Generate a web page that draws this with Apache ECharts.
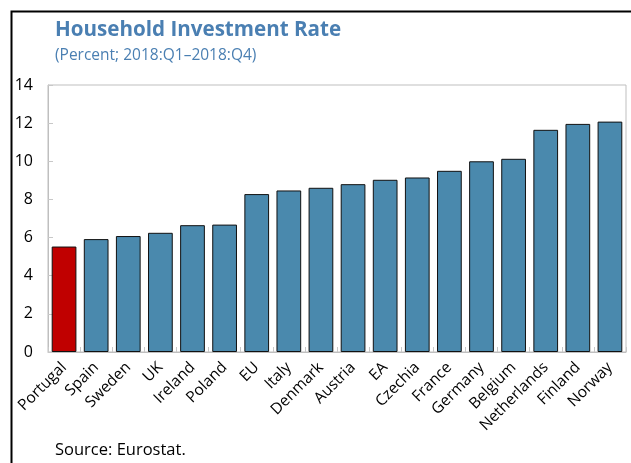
<!DOCTYPE html>
<html>
<head>
<meta charset="utf-8">
<script src="https://cdn.jsdelivr.net/npm/echarts@6/dist/echarts.min.js"></script>
<style>
  html, body { margin: 0; padding: 0; background: #fff; }
  #chart { width: 631px; height: 463px; }
</style>
</head>
<body>
<div id="chart"></div>
<script>
// Household investment rate by country, 2018 average
const countries = ['Portugal', 'Spain', 'Sweden', 'UK', 'Ireland', 'Poland', 'EU', 'Italy', 'Denmark',
  'Austria', 'EA', 'Czechia', 'France', 'Germany', 'Belgium', 'Netherlands', 'Finland', 'Norway'];
const rates = [5.53, 5.92, 6.08, 6.25, 6.65, 6.68, 8.28, 8.47, 8.61,
  8.80, 9.03, 9.15, 9.50, 10.00, 10.13, 11.65, 11.96, 12.08];
const highlighted = 'Portugal';
const yTicks = [0, 2, 4, 6, 8, 10, 12, 14];

const FONT = '"Open Sans", "Noto Sans", sans-serif';
const BLUE = '#4a89ad';
const RED = '#c00000';
const TITLE_BLUE = '#4a7fb2';

const chart = echarts.init(document.getElementById('chart'), null, { renderer: 'canvas' });

chart.setOption({
  backgroundColor: '#ffffff',
  animation: false,
  textStyle: { fontFamily: FONT },
  graphic: [
    {
      type: 'rect',
      shape: { x: 11.5, y: 11.5, width: 800, height: 600 },
      style: { fill: 'none', stroke: '#000', lineWidth: 2 },
      silent: true
    },
    {
      type: 'text', left: 55, top: 20,
      style: { text: 'Household Investment Rate', font: 'bold 20.6px ' + FONT, fill: TITLE_BLUE }
    },
    {
      type: 'text', left: 55, top: 48,
      style: { text: '(Percent; 2018:Q1\u20132018:Q4)', font: '15.5px ' + FONT, fill: TITLE_BLUE }
    },
    {
      type: 'text', left: 55, top: 442,
      style: { text: 'Source: Eurostat.', font: '16.5px ' + FONT, fill: '#000' }
    }
  ],
  grid: {
    left: 48, right: 5, top: 85, bottom: 111,
    show: true, borderColor: '#bfbfbf', borderWidth: 1, backgroundColor: 'transparent'
  },
  xAxis: {
    type: 'category',
    data: countries,
    axisLine: { show: true, lineStyle: { color: '#bfbfbf', width: 1 } },
    axisTick: { show: true, inside: true, length: 5, lineStyle: { color: '#c8c8c8' } },
    axisLabel: {
      interval: 0, rotate: 45, fontSize: 15.5, color: '#000', fontFamily: FONT, margin: 13
    },
    splitLine: { show: false }
  },
  yAxis: {
    type: 'value',
    min: yTicks[0], max: yTicks[yTicks.length - 1], interval: 2,
    axisLine: { show: true, lineStyle: { color: '#bfbfbf', width: 1 } },
    axisTick: { show: true, inside: true, length: 5, lineStyle: { color: '#c8c8c8' } },
    axisLabel: { fontSize: 16, color: '#000', fontFamily: FONT, margin: 15, align: 'right' },
    splitLine: { show: false }
  },
  series: [{
    type: 'bar',
    barWidth: '77%',
    data: countries.map((c, i) => ({
      value: rates[i],
      itemStyle: { color: c === highlighted ? RED : BLUE }
    })),
    itemStyle: { borderColor: '#111', borderWidth: 1 }
  }]
});
</script>
</body>
</html>
